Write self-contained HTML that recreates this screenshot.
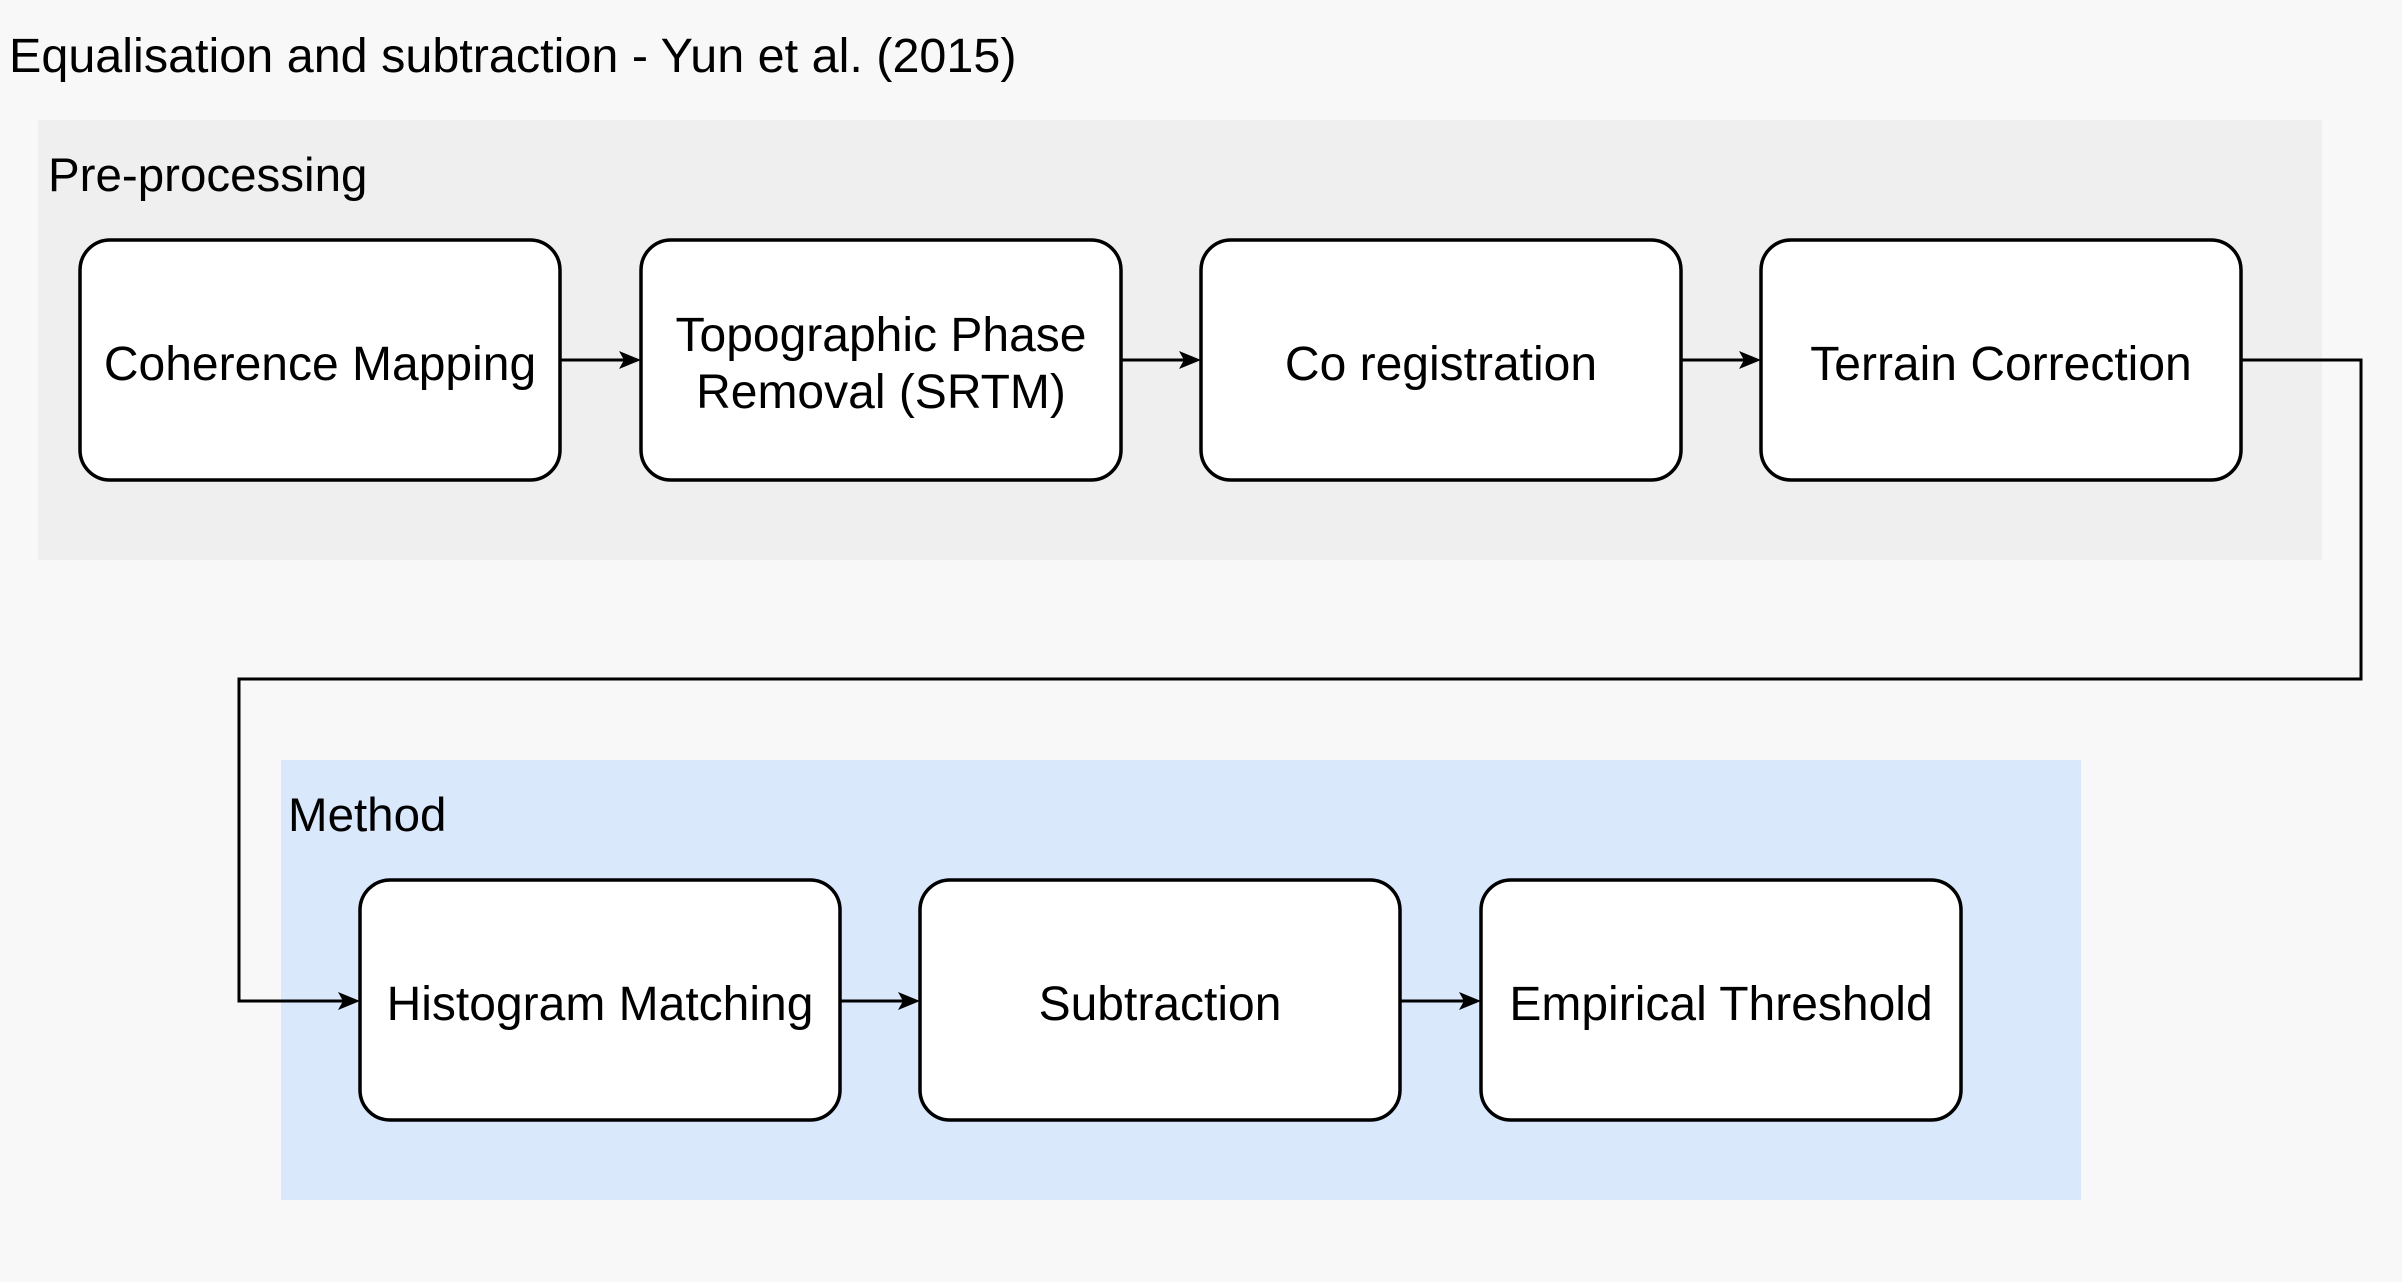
<!DOCTYPE html>
<html><head><meta charset="utf-8"><style>
html,body{margin:0;padding:0;background:#f8f8f8;}
svg{display:block;font-family:"Liberation Sans",Arial,sans-serif;}
</style></head><body>
<svg width="2402" height="1282" viewBox="0 0 2402 1282" xmlns="http://www.w3.org/2000/svg">
<rect width="2402" height="1282" fill="#f8f8f8"/>
<text x="9" y="72" font-size="48.5">Equalisation and subtraction - Yun et al. (2015)</text>
<rect x="38" y="120" width="2284" height="440" fill="#efefef"/>
<text x="48" y="191" font-size="47.5">Pre-processing</text>
<rect x="281" y="760" width="1800" height="440" fill="#dae8fc"/>
<text x="288" y="831" font-size="47.5">Method</text>
<g fill="#fff" stroke="#000" stroke-width="3.5">
<rect x="80" y="240" width="480" height="240" rx="30"/>
<rect x="641" y="240" width="480" height="240" rx="30"/>
<rect x="1201" y="240" width="480" height="240" rx="30"/>
<rect x="1761" y="240" width="480" height="240" rx="30"/>
<rect x="360" y="880" width="480" height="240" rx="30"/>
<rect x="920" y="880" width="480" height="240" rx="30"/>
<rect x="1481" y="880" width="480" height="240" rx="30"/>
</g>
<g fill="none" stroke="#000" stroke-width="3">
<path d="M560 360H630"/><path d="M1121 360H1190"/><path d="M1681 360H1750"/>
<path d="M2241 360H2361V679H239V1001H349"/>
<path d="M840 1001H909"/><path d="M1400 1001H1470"/>
</g>
<g fill="#000">
<path d="M641 360l-22-9 5 9-5 9z"/><path d="M1201 360l-22-9 5 9-5 9z"/><path d="M1761 360l-22-9 5 9-5 9z"/>
<path d="M360 1001l-22-9 5 9-5 9z"/><path d="M920 1001l-22-9 5 9-5 9z"/><path d="M1481 1001l-22-9 5 9-5 9z"/>
</g>
<g font-size="48" text-anchor="middle">
<text x="320" y="380">Coherence Mapping</text>
<text x="881" y="351">Topographic Phase</text>
<text x="881" y="408">Removal (SRTM)</text>
<text x="1441" y="380">Co registration</text>
<text x="2001" y="380">Terrain Correction</text>
<text x="600" y="1020">Histogram Matching</text>
<text x="1160" y="1020">Subtraction</text>
<text x="1721" y="1020">Empirical Threshold</text>
</g>
</svg>
</body></html>
